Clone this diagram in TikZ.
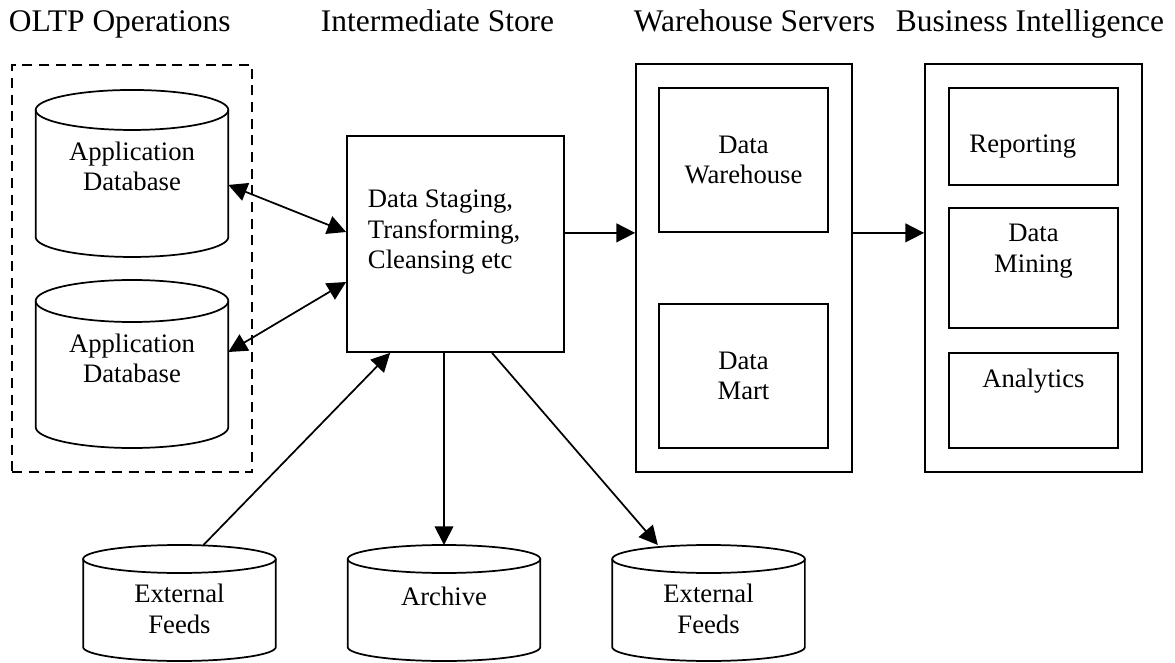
\documentclass[tikz,border=0pt]{standalone}
\usepackage{fontspec}
\setmainfont{Liberation Serif}
\usetikzlibrary{positioning,arrows.meta}

\begin{document}
\begin{tikzpicture}[x=1pt,y=1pt,>={Triangle[length=14pt,width=14pt]},line width=1.3pt,
    every node/.style={inner sep=0pt,align=center,font=\fontsize{20}{23}\selectfont},
    heading/.style={anchor=base west,font=\fontsize{23.6}{28}\selectfont},
    frame/.style={draw,minimum width=162.75pt,minimum height=306pt},
    unit/.style={draw,minimum width=126.75pt},
    dbase/.style={outer sep=0pt,minimum width=144.5pt}]
    \useasboundingbox (0,0) rectangle (881.25,496.5);
    % column headings
    \node[heading] (holtp) at (6,472.5) {OLTP Operations};
    \node[heading] (hstore) at (240,472.5) {Intermediate Store};
    \node[heading] (hware) at (474.75,472.5) {Warehouse Servers};
    \node[heading] (hbi) at (671.25,472.5) {Business Intelligence};
    % operational databases
    \node[draw,dash pattern=on 7.5pt off 5pt,minimum width=180pt,minimum height=305.25pt] (oltp) at (99,295.1) {};
    \node[dbase,minimum height=125.25pt] (app1) at (99,366.4) {};
    \node (app1txt) at ([yshift=5.3pt]app1.center) {Application\\Database};
    \node[dbase,minimum height=126pt] (app2) at (99,223.5) {};
    \node (app2txt) at ([yshift=4.1pt]app2.center) {Application\\Database};
    % staging area
    \node[draw,minimum width=162.75pt,minimum height=162pt] (stage) at (341.6,313.5) {};
    \node[below right=40.3pt and 15.75pt of stage.north west,align=left] (stagetxt) {Data Staging,\\Transforming,\\Cleansing etc};
    % feeds and archive
    \node[dbase,minimum height=87pt] (ext1) at (134.6,44.25) {};
    \node (ext1txt) at ([yshift=-4.5pt]ext1.center) {External\\Feeds};
    \node[dbase,minimum height=87pt] (arch) at (333,44.25) {};
    \node (archtxt) at ([yshift=5.25pt]arch.center) {Archive};
    \node[dbase,minimum height=87pt] (ext2) at (531.4,44.25) {};
    \node (ext2txt) at ([yshift=-4.5pt]ext2.center) {External\\Feeds};
    % cylinder outlines
    \foreach \db/\ry in {app1/15,app2/15.75,ext1/10.5,arch/10.5,ext2/10.5}{
        \draw ([yshift=-\ry pt]\db.north) ellipse [x radius=72.25pt,y radius=\ry pt];
        \draw ([yshift=-\ry pt]\db.north west) -- ([yshift=\ry pt]\db.south west)
            arc [start angle=180,end angle=360,x radius=72.25pt,y radius=\ry pt]
            -- ([yshift=-\ry pt]\db.north east);
    }
    % warehouse servers
    \node[frame,minimum width=162pt] (ware) at (558,295.5) {};
    \node[unit,minimum height=108pt] (dw) at (557.6,376.5) {Data\\Warehouse};
    \node[unit,minimum height=108pt] (mart) at (557.6,214.5) {Data\\Mart};
    % business intelligence
    \node[frame] (bi) at (775.1,295.3) {};
    \node[unit,minimum height=72.75pt] (rep) at (775.1,394.1) {};
    \node[below=35pt of rep.north,xshift=-8pt] (reptxt) {Reporting};
    \node[unit,minimum height=90pt] (mine) at (775.1,295.5) {};
    \node[below=12.2pt of mine.north] (minetxt) {Data\\Mining};
    \node[unit,minimum height=71.25pt] (ana) at (775.1,196.1) {};
    \node[below=11.8pt of ana.north] (anatxt) {Analytics};
    % data flow
    \draw[<->] ([yshift=-8.6pt]app1.east) -- ([yshift=9pt]stage.west);
    \draw[<->] ([yshift=9pt]app2.east) -- ([yshift=-28.5pt]stage.west);
    \draw[->] ([xshift=18pt]ext1.north) -- ([xshift=-49pt]stage.south);
    \draw[->] (arch.north |- stage.south) -- (arch.north);
    \draw[->] ([xshift=27.4pt]stage.south) -- ([xshift=-38pt]ext2.north);
    \draw[->] (stage.east |- dw.south) -- (ware.west |- dw.south);
    \draw[->] (ware.east |- dw.south) -- (bi.west |- dw.south);
\end{tikzpicture}
\end{document}
